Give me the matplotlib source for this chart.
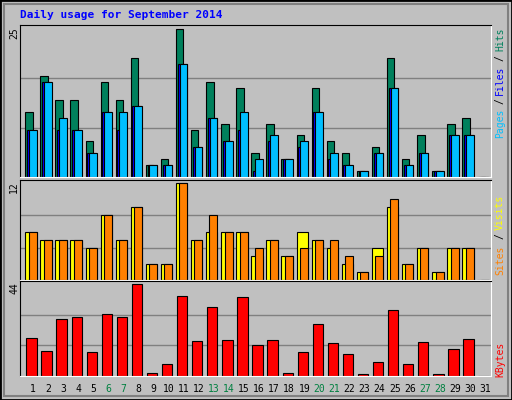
import numpy as np
import matplotlib
matplotlib.use('Agg')
import matplotlib.pyplot as plt
from matplotlib.patches import Rectangle

days = np.arange(1, 32)
hits = [11, 17, 13, 13, 6, 16, 13, 20, 2, 3, 25, 8, 16, 9, 15, 4, 9, 3, 7, 15, 6, 4, 1, 5, 20, 3, 7, 1, 9, 10, 0]
files = [8, 16, 10, 8, 4, 11, 11, 12, 2, 2, 19, 5, 10, 6, 11, 3, 7, 3, 6, 11, 4, 2, 1, 4, 15, 2, 4, 1, 7, 7, 0]
pages = [8, 16, 8, 8, 4, 11, 8, 12, 2, 2, 19, 5, 10, 6, 8, 1, 6, 3, 5, 11, 3, 2, 1, 4, 15, 2, 4, 1, 7, 7, 0]
visits = [6, 5, 5, 5, 4, 8, 5, 9, 2, 2, 12, 5, 6, 6, 6, 3, 5, 3, 6, 5, 4, 2, 1, 4, 9, 2, 4, 1, 4, 4, 0]
sites = [6, 5, 5, 5, 4, 8, 5, 9, 2, 2, 12, 5, 8, 6, 6, 4, 5, 3, 4, 5, 5, 3, 1, 3, 10, 2, 4, 1, 4, 4, 0]
kbytes = [18.4, 12.1, 27.1, 28.1, 11.6, 29.5, 28.1, 44, 1.5, 5.8, 38.2, 16.9, 32.9, 17.4, 37.7, 15,
          17.4, 1.5, 11.6, 24.7, 16, 10.6, 1, 6.8, 31.5, 5.8, 16.5, 1, 13, 17.9, 0]
weekends = [6, 7, 13, 14, 20, 21, 27, 28]

W, H = 512, 400
BG = '#C0C0C0'
fig = plt.figure(figsize=(W / 100, H / 100), dpi=100, facecolor=BG)
mono = 'DejaVu Sans Mono'

def px_axes(x0, y0, x1, y1):
    ax = fig.add_axes([x0 / W, 1 - y1 / H, (x1 - x0) / W, (y1 - y0) / H])
    ax.set_facecolor(BG)
    ax.set_xlim(0.14, 31.39)
    ax.set_xticks([])
    ax.set_yticks([])
    for s in ('left', 'top'):
        ax.spines[s].set_color('black')
    for s in ('right', 'bottom'):
        ax.spines[s].set_color('white')
    return ax

# outer frame
fig.patches.append(Rectangle((0, 0), 1, 1, transform=fig.transFigure, fill=False,
                             edgecolor='black', linewidth=2))
fig.patches.append(Rectangle((4 / W, 4 / H), (W - 8) / W, (H - 8) / H, transform=fig.transFigure,
                             fill=False, edgecolor='#808080', linewidth=1.5))

kw = dict(edgecolor='black', linewidth=0.8, align='edge')

# Hits / Files / Pages
ax1 = px_axes(20, 25, 491, 177)
ax1.set_ylim(0, 25.6)
for g in (25 / 3, 50 / 3):
    ax1.axhline(g, color='#808080', linewidth=1, zorder=0)
ax1.bar(days - 0.51, hits, width=0.49, color='#00805C', **kw)
ax1.bar(days - 0.40, pages, width=0.6, color='#0000FF', **kw)
ax1.bar(days - 0.27, files, width=0.51, color='#00BFFF', **kw)

# Visits / Sites
ax2 = px_axes(20, 180, 491, 280)
ax2.set_ylim(0, 12.4)
for g in (4, 8):
    ax2.axhline(g, color='#808080', linewidth=1, zorder=0)
ax2.bar(days - 0.51, visits, width=0.75, color='#FFFF00', **kw)
ax2.bar(days - 0.29, sites, width=0.53, color='#FF8000', **kw)

# KBytes
ax3 = px_axes(20, 281, 491, 376)
ax3.set_ylim(0, 45.5)
for g in (44 / 3, 88 / 3):
    ax3.axhline(g, color='#808080', linewidth=1, zorder=0)
ax3.bar(days - 0.44, kbytes, width=0.68, color='#FF0000', **kw)

# day labels
for d in days:
    x = 20 + (d - 0.14) / (31.39 - 0.14) * 471
    fig.text(x / W, 1 - 389 / H, str(d), ha='center', va='center', fontsize=7, family=mono,
             color='#008040' if d in weekends else 'black')

fig.text(20 / W, 1 - 15 / H, 'Daily usage for September 2014', fontsize=8, family=mono,
         weight='bold', color='#0000FF', va='center')

for y, lab in ((33, '25'), (187, '12'), (288, '44')):
    fig.text(14 / W, 1 - y / H, lab, rotation=90, fontsize=7, family=mono, ha='center', va='center')

def rlabel(y, s, c):
    fig.text(500 / W, 1 - y / H, s, rotation=90, fontsize=7, family=mono,
             ha='center', va='center', color=c)

rlabel(39, 'Hits', '#00805C')
rlabel(58, '/', '#000000')
rlabel(80, 'Files', '#0000FF')
rlabel(101, '/', '#000000')
rlabel(123, 'Pages', '#00BFFF')
rlabel(212, 'Visits', '#FFFF00')
rlabel(236, '/', '#000000')
rlabel(260, 'Sites', '#FF8000')
rlabel(359, 'KBytes', '#FF0000')

fig.savefig('out.png', dpi=100, facecolor=BG)
